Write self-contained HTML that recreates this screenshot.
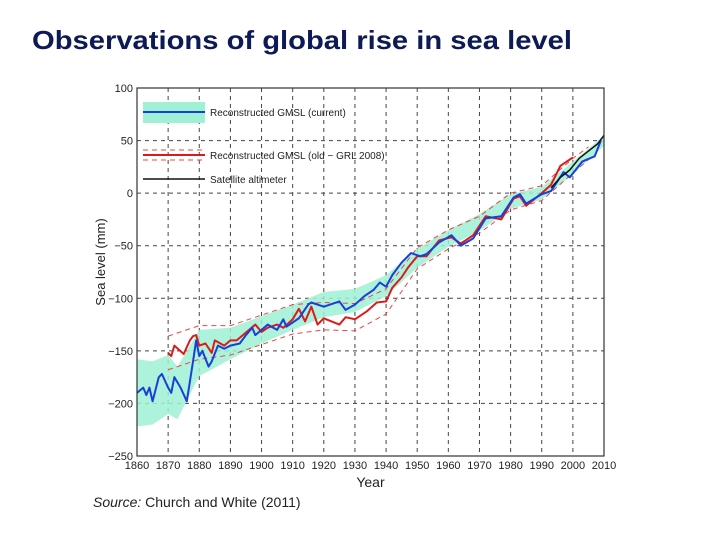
<!DOCTYPE html>
<html><head><meta charset="utf-8"><style>
html,body{margin:0;padding:0;background:#fff;width:720px;height:540px;overflow:hidden}
svg text{font-family:"Liberation Sans",sans-serif}
</style></head><body>
<svg id="c" width="720" height="540" xmlns="http://www.w3.org/2000/svg">
<text x="32" y="49" font-size="26" font-weight="bold" fill="#0d1a55" textLength="540" lengthAdjust="spacingAndGlyphs">Observations of global rise in sea level</text>
<g id="plot"></g>
</svg>
<script>
const blueYears=[1860,1862,1863,1864,1865,1867,1868,1870,1871,1872,1874,1876,1878,1879,1880,1881,1883,1884,1886,1888,1890,1893,1895,1897,1898,1900,1902,1905,1907,1908,1912,1915,1916,1920,1925,1927,1930,1933,1936,1938,1940,1942,1945,1948,1951,1953,1957,1961,1964,1968,1972,1977,1981,1983,1985,1990,1993,1997,1999,2003,2007,2009];
const blueVals=[-190,-185,-192,-185,-198,-175,-172,-185,-190,-175,-185,-198,-160,-140,-155,-150,-165,-160,-145,-148,-145,-143,-135,-128,-135,-130,-125,-130,-120,-127,-119,-106,-104,-108,-103,-111,-106,-98,-92,-85,-89,-78,-66,-57,-60,-58,-47,-40,-50,-43,-24,-22,-4,-1,-10,-1,2,20,15,30,35,50];
const redYears=[1870,1871,1872,1875,1877,1878,1879,1880,1882,1884,1885,1888,1890,1892,1894,1896,1898,1900,1902,1905,1907,1910,1912,1914,1916,1918,1920,1925,1927,1930,1934,1937,1940,1942,1945,1947,1950,1953,1957,1961,1964,1968,1972,1977,1981,1983,1985,1990,1993,1996,2000];
const redVals=[-152,-155,-145,-153,-140,-136,-135,-145,-143,-152,-140,-145,-140,-140,-135,-130,-125,-132,-128,-125,-128,-120,-110,-122,-108,-125,-119,-125,-118,-120,-112,-104,-103,-90,-80,-71,-60,-60,-45,-42,-48,-40,-22,-25,-5,-3,-12,0,8,26,34];
const satYears=[1993,1996,1999,2002,2005,2008,2010];
const satVals=[5,15,22,33,40,47,55];
const bandYears=[1860,1865,1870,1873,1880,1890,1900,1910,1920,1930,1940,1950,1960,1970,1980,1990,2000,2010];
const bandCenter=[-190,-190,-182,-190,-152,-143,-130,-118,-106,-102,-88,-62,-43,-28,-8,0,24,50];
const bandHalf=[32,30,28,25,22,15,13,12,12,11,10,9,8,8,7,6,6,5];
const redBandYears=[1870,1880,1890,1900,1910,1920,1930,1940,1950,1960,1970,1980,1990,2000,2005];
const redBandCenter=[-152,-142,-140,-130,-120,-117,-118,-103,-62,-44,-30,-8,0,26,38];
const redBandHalf=[16,16,14,14,14,13,13,12,10,9,8,8,7,7,6];
const xTicks=[1860,1870,1880,1890,1900,1910,1920,1930,1940,1950,1960,1970,1980,1990,2000,2010];
const yTicks=[100,50,0,-50,-100,-150,-200,-250];

const L=137,R=604,T=88,B=456;
const X=y=>L+(y-1860)/(2010-1860)*(R-L);
const Y=v=>T+(100-v)/(350)*(B-T);
const NS='http://www.w3.org/2000/svg';
const g=document.getElementById('plot');
function mk(t,a,p){const e=document.createElementNS(NS,t);for(const k in a)e.setAttribute(k,a[k]);(p||g).appendChild(e);return e;}

mk('rect',{x:L,y:T,width:R-L,height:B-T,fill:'#fff'});
xTicks.forEach((t,i)=>{
 if(i>0&&i<xTicks.length-1){const l=mk('line',{x1:X(t),x2:X(t),y1:T,y2:B,stroke:'#444','stroke-width':1,'stroke-dasharray':'4,4'});
 
 }
 const tx=mk('text',{x:X(t),y:B+13,'font-size':11,'text-anchor':'middle',fill:'#222'});tx.textContent=t;
 
 
});
yTicks.forEach((t,i)=>{
 if(i>0&&i<yTicks.length-1){const l=mk('line',{x1:L,x2:R,y1:Y(t),y2:Y(t),stroke:'#444','stroke-width':1,'stroke-dasharray':'4,4'});
 
 }
 const tx=mk('text',{x:L-4,y:Y(t)+4,'font-size':11,'text-anchor':'end',fill:'#222'});tx.textContent=(t<0?'\u2212'+(-t):t);
 
 
});
let up=bandYears.map((y,i)=>X(y)+','+Y(bandCenter[i]+bandHalf[i]));
let dn=bandYears.map((y,i)=>X(y)+','+Y(bandCenter[i]-bandHalf[i])).reverse();
const band=mk('polygon',{points:up.concat(dn).join(' '),fill:'#9ff0d4',opacity:0.85});


[1,-1].forEach(s=>{
 const pts=redBandYears.map((y,i)=>X(y)+','+Y(redBandCenter[i]+s*redBandHalf[i]));
 const p=mk('polyline',{points:pts.join(' '),fill:'none',stroke:'#e44','stroke-width':1,'stroke-dasharray':'5,4'});
 
 
});
function line(xs,vs,col,w,name){const p=mk('polyline',{points:xs.map((y,i)=>X(y)+','+Y(vs[i])).join(' '),fill:'none',stroke:col,'stroke-width':w,'stroke-linejoin':'round'});
 
 }
line(redYears,redVals,'#dd1a1a',2,'old-gmsl-line');
line(blueYears,blueVals,'#1a3fd8',2,'current-gmsl-line');
line(satYears,satVals,'#111',1.5,'satellite-altimeter-line');
mk('rect',{x:L,y:T,width:R-L,height:B-T,fill:'none',stroke:'#333','stroke-width':1.2});
const lg=mk('g',{});


mk('rect',{x:143,y:102,width:62,height:21,fill:'#9ff0d4'},lg);
mk('line',{x1:143,x2:205,y1:112,y2:112,stroke:'#1a3fd8','stroke-width':2},lg);
mk('line',{x1:143,x2:205,y1:150,y2:150,stroke:'#e44','stroke-width':1,'stroke-dasharray':'5,4'},lg);
mk('line',{x1:143,x2:205,y1:160,y2:160,stroke:'#e44','stroke-width':1,'stroke-dasharray':'5,4'},lg);
mk('line',{x1:143,x2:205,y1:155,y2:155,stroke:'#dd1a1a','stroke-width':2},lg);
mk('line',{x1:143,x2:205,y1:179,y2:179,stroke:'#111','stroke-width':1.5},lg);
[['Reconstructed GMSL (current)',116],['Reconstructed GMSL (old \u2212 GRL 2008)',159],['Satellite altimeter',183]].forEach(a=>{const t=mk('text',{x:210,y:a[1],'font-size':10,fill:'#222'},lg);t.textContent=a[0];
 
 });
const xt=mk('text',{x:(L+R)/2,y:487,'font-size':14,'text-anchor':'middle',fill:'#222'});xt.textContent='Year';


const yt=mk('text',{x:0,y:0,'font-size':13,'text-anchor':'middle',fill:'#222',transform:'translate(105,'+((T+B)/2-10)+') rotate(-90)'});yt.textContent='Sea level (mm)';


const src=mk('text',{x:93,y:507,'font-size':14,fill:'#222'});src.innerHTML='<tspan font-style="italic">Source:</tspan> Church and White (2011)';


</script>
</body></html>
